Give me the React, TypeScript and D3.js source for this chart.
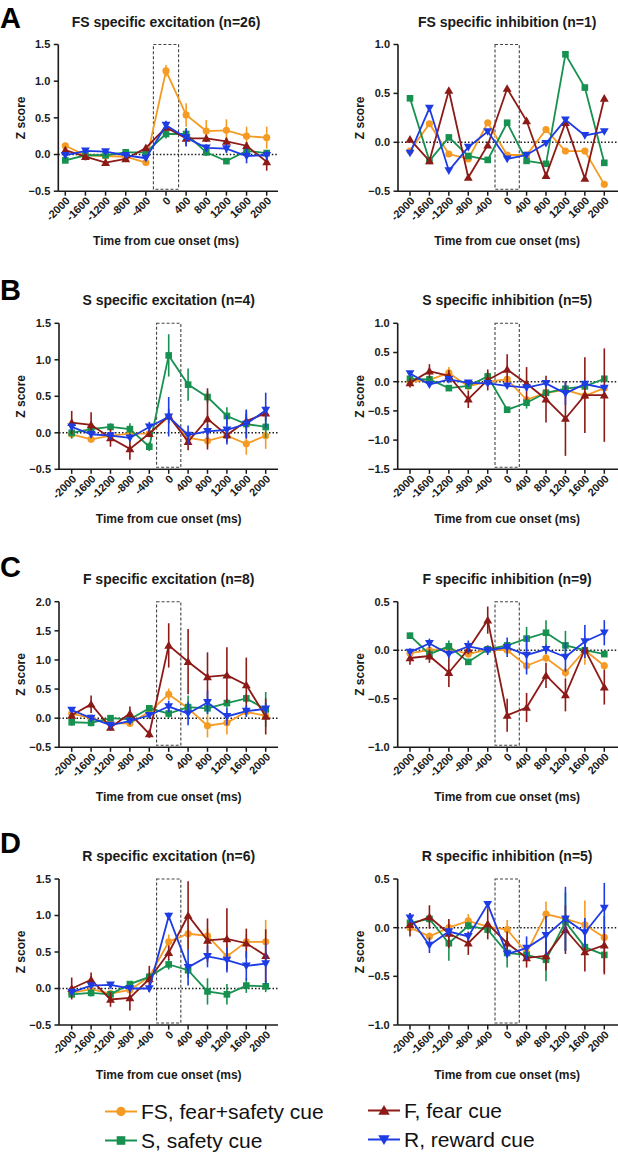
import React from "react";
import * as d3 from "d3";

// ---------- data ----------
const TIMES = [-2000, -1600, -1200, -800, -400, 0, 400, 800, 1200, 1600, 2000];
const SERIES_NAMES = ["FS, fear+safety cue", "S, safety cue", "F, fear cue", "R, reward cue"];
const SERIES_COLORS = ["#F59A23", "#17914F", "#8C1A17", "#1E3CE4"];
const SERIES_SHAPES = ["circle", "square", "triangleUp", "triangleDown"];
const PANEL_TITLES = [
  "FS specific excitation (n=26)",
  "FS specific inhibition (n=1)",
  "S specific excitation (n=4)",
  "S specific inhibition (n=5)",
  "F specific excitation (n=8)",
  "F specific inhibition (n=9)",
  "R specific excitation (n=6)",
  "R specific inhibition (n=5)",
];
const ROW_LETTERS = ["A", "B", "C", "D"];
const Y_TICKS_A_EXC = [-0.5, 0, 0.5, 1.0, 1.5];
const Y_TICKS_A_INH = [-0.5, 0, 0.5, 1.0];
const Y_TICKS_B_EXC = [-0.5, 0, 0.5, 1.0, 1.5];
const Y_TICKS_B_INH = [-1.5, -1.0, -0.5, 0, 0.5, 1.0];
const Y_TICKS_C_EXC = [-0.5, 0, 0.5, 1.0, 1.5, 2.0];
const Y_TICKS_C_INH = [-1.0, -0.5, 0, 0.5];
const Y_TICKS_D_EXC = [-0.5, 0, 0.5, 1.0, 1.5];
const Y_TICKS_D_INH = [-1.0, -0.5, 0, 0.5];
const X_TITLE = "Time from cue onset (ms)";
const Y_TITLE = "Z score";

// FS specific excitation
const FSEXC_FS = [0.12, -0.01, -0.02, -0.03, -0.11, 1.14, 0.54, 0.32, 0.33, 0.25, 0.23];
const FSEXC_FS_ERR = [0.04, 0.04, 0.04, 0.04, 0.04, 0.08, 0.16, 0.15, 0.15, 0.13, 0.15];
const FSEXC_S = [-0.08, -0.01, -0.01, 0.03, 0.03, 0.28, 0.28, 0.03, -0.09, 0.05, 0.02];
const FSEXC_S_ERR = [0.03, 0.03, 0.03, 0.03, 0.03, 0.06, 0.08, 0.05, 0.04, 0.05, 0.04];
const FSEXC_F = [0.06, -0.03, -0.11, -0.06, 0.09, 0.37, 0.22, 0.22, 0.18, 0.12, -0.1];
const FSEXC_F_ERR = [0.04, 0.05, 0.04, 0.04, 0.04, 0.05, 0.1, 0.05, 0.05, 0.05, 0.12];
const FSEXC_R = [-0.01, 0.05, 0.04, -0.01, -0.05, 0.4, 0.23, 0.09, 0.08, -0.02, -0.01];
const FSEXC_R_ERR = [0.03, 0.03, 0.03, 0.03, 0.03, 0.06, 0.12, 0.05, 0.06, 0.1, 0.06];

// FS specific inhibition (n=1, no error bars)
const FSINH_FS = [-0.09, 0.19, -0.12, -0.17, 0.2, -0.13, -0.13, 0.13, -0.09, -0.09, -0.43];
const FSINH_S = [0.45, -0.19, 0.05, -0.14, -0.18, 0.2, -0.19, -0.22, 0.9, 0.56, -0.21];
const FSINH_F = [0.03, -0.19, 0.53, -0.36, -0.03, 0.55, 0.22, -0.34, 0.2, -0.37, 0.45];
const FSINH_R = [-0.11, 0.35, -0.29, -0.05, 0.11, -0.17, -0.13, -0.01, 0.23, 0.07, 0.11];
const NO_ERR = [0, 0, 0, 0, 0, 0, 0, 0, 0, 0, 0];

// S specific excitation
const SEXC_FS = [-0.02, -0.09, -0.04, -0.01, -0.01, 0.22, -0.07, -0.11, -0.04, -0.15, -0.04];
const SEXC_FS_ERR = [0.04, 0.04, 0.04, 0.04, 0.04, 0.05, 0.06, 0.08, 0.06, 0.15, 0.18];
const SEXC_S = [0.0, 0.05, 0.08, 0.05, -0.19, 1.06, 0.66, 0.49, 0.23, 0.12, 0.08];
const SEXC_S_ERR = [0.08, 0.05, 0.05, 0.08, 0.06, 0.29, 0.22, 0.08, 0.12, 0.18, 0.15];
const SEXC_F = [0.14, 0.11, -0.07, -0.22, -0.01, 0.23, -0.12, 0.19, -0.03, 0.16, 0.27];
const SEXC_F_ERR = [0.16, 0.17, 0.12, 0.15, 0.05, 0.1, 0.12, 0.42, 0.1, 0.1, 0.1];
const SEXC_R = [0.08, -0.02, -0.04, -0.07, 0.08, 0.22, -0.03, 0.02, 0.04, 0.12, 0.31];
const SEXC_R_ERR = [0.05, 0.05, 0.05, 0.05, 0.07, 0.27, 0.13, 0.1, 0.2, 0.2, 0.24];

// S specific inhibition
const SINH_FS = [0.0, 0.03, 0.15, -0.08, 0.0, 0.04, -0.31, -0.19, -0.14, -0.24, -0.11];
const SINH_FS_ERR = [0.05, 0.05, 0.1, 0.05, 0.05, 0.05, 0.05, 0.05, 0.05, 0.05, 0.05];
const SINH_S = [0.05, 0.04, -0.11, -0.07, 0.09, -0.48, -0.36, -0.19, -0.12, -0.08, 0.05];
const SINH_S_ERR = [0.04, 0.04, 0.05, 0.05, 0.08, 0.05, 0.1, 0.05, 0.05, 0.05, 0.05];
const SINH_F = [-0.02, 0.18, 0.1, -0.3, 0.03, 0.21, -0.03, -0.3, -0.63, -0.23, -0.23];
const SINH_F_ERR = [0.08, 0.12, 0.1, 0.15, 0.18, 0.26, 0.28, 0.4, 0.64, 0.65, 0.8];
const SINH_R = [0.14, -0.05, 0.04, -0.02, -0.03, -0.07, -0.1, -0.03, -0.2, -0.04, -0.11];
const SINH_R_ERR = [0.04, 0.04, 0.04, 0.04, 0.04, 0.04, 0.05, 0.05, 0.2, 0.06, 0.05];

// F specific excitation
const FEXC_FS = [0.08, 0.0, -0.09, -0.09, 0.11, 0.41, 0.17, -0.13, -0.08, 0.11, 0.04];
const FEXC_FS_ERR = [0.04, 0.04, 0.04, 0.04, 0.05, 0.1, 0.08, 0.2, 0.2, 0.08, 0.06];
const FEXC_S = [-0.07, -0.08, 0.0, -0.02, 0.17, 0.08, 0.19, 0.17, 0.26, 0.34, 0.15];
const FEXC_S_ERR = [0.06, 0.06, 0.04, 0.04, 0.05, 0.08, 0.2, 0.1, 0.08, 0.08, 0.3];
const FEXC_F = [0.05, 0.24, -0.16, 0.08, -0.27, 1.25, 0.97, 0.71, 0.74, 0.57, 0.03];
const FEXC_F_ERR = [0.06, 0.15, 0.05, 0.12, 0.07, 0.38, 0.56, 0.42, 0.48, 0.47, 0.31];
const FEXC_R = [0.14, 0.0, -0.12, -0.05, 0.05, 0.2, 0.08, 0.27, 0.03, 0.12, 0.16];
const FEXC_R_ERR = [0.04, 0.04, 0.04, 0.04, 0.05, 0.1, 0.2, 0.2, 0.15, 0.1, 0.1];

// F specific inhibition
const FINH_FS = [-0.03, 0.0, 0.02, -0.04, 0.01, 0.0, -0.16, -0.08, -0.23, 0.0, -0.16];
const FINH_FS_ERR = [0.03, 0.03, 0.03, 0.03, 0.03, 0.03, 0.04, 0.04, 0.05, 0.15, 0.04];
const FINH_S = [0.15, -0.04, 0.04, -0.12, 0.01, 0.05, 0.12, 0.18, 0.05, 0.0, -0.04];
const FINH_S_ERR = [0.03, 0.04, 0.06, 0.03, 0.03, 0.03, 0.12, 0.13, 0.15, 0.04, 0.03];
const FINH_F = [-0.08, -0.06, -0.23, 0.01, 0.31, -0.67, -0.59, -0.26, -0.46, 0.01, -0.38];
const FINH_F_ERR = [0.07, 0.07, 0.15, 0.05, 0.14, 0.17, 0.15, 0.13, 0.17, 0.05, 0.18];
const FINH_R = [-0.02, 0.07, -0.04, 0.04, 0.0, 0.03, -0.05, 0.01, -0.07, 0.09, 0.18];
const FINH_R_ERR = [0.04, 0.05, 0.04, 0.06, 0.05, 0.1, 0.2, 0.05, 0.15, 0.17, 0.13];

// R specific excitation
const REXC_FS = [-0.06, -0.01, -0.07, -0.02, 0.16, 0.64, 0.75, 0.72, 0.44, 0.64, 0.64];
const REXC_FS_ERR = [0.04, 0.04, 0.04, 0.04, 0.06, 0.1, 0.2, 0.1, 0.2, 0.1, 0.3];
const REXC_S = [-0.08, -0.06, -0.08, 0.06, 0.16, 0.33, 0.25, -0.04, -0.08, 0.04, 0.03];
const REXC_S_ERR = [0.04, 0.05, 0.05, 0.03, 0.05, 0.07, 0.1, 0.18, 0.14, 0.1, 0.08];
const REXC_F = [0.0, 0.12, -0.15, -0.13, 0.13, 0.49, 1.0, 0.66, 0.68, 0.62, 0.45];
const REXC_F_ERR = [0.15, 0.1, 0.1, 0.17, 0.18, 0.1, 0.47, 0.3, 0.42, 0.2, 0.36];
const REXC_R = [-0.05, 0.04, 0.05, 0.0, 0.0, 0.99, 0.29, 0.44, 0.39, 0.31, 0.34];
const REXC_R_ERR = [0.04, 0.04, 0.04, 0.04, 0.05, 0.05, 0.25, 0.15, 0.17, 0.2, 0.28];

// R specific inhibition
const RINH_FS = [0.0, -0.09, 0.0, 0.07, 0.01, -0.02, -0.26, 0.14, 0.09, 0.03, -0.1];
const RINH_FS_ERR = [0.04, 0.04, 0.04, 0.07, 0.04, 0.1, 0.05, 0.13, 0.05, 0.25, 0.05];
const RINH_S = [0.05, 0.09, -0.16, 0.02, -0.02, -0.26, -0.28, -0.33, 0.06, -0.2, -0.28];
const RINH_S_ERR = [0.04, 0.04, 0.18, 0.04, 0.04, 0.15, 0.06, 0.22, 0.3, 0.06, 0.18];
const RINH_F = [0.03, 0.11, -0.06, -0.16, 0.04, -0.16, -0.31, -0.29, -0.02, -0.25, -0.18];
const RINH_F_ERR = [0.12, 0.12, 0.15, 0.12, 0.16, 0.12, 0.1, 0.15, 0.25, 0.2, 0.3];
const RINH_R = [0.1, -0.18, -0.04, -0.09, 0.24, -0.27, -0.21, -0.08, 0.09, -0.05, 0.2];
const RINH_R_ERR = [0.05, 0.08, 0.04, 0.04, 0.03, 0.04, 0.12, 0.2, 0.33, 0.15, 0.26];

// ---------- layout ----------
const W = 618;
const H = 1155;
const FONT = "'Liberation Sans', Arial, Helvetica, sans-serif";
const INK = "#1a1a1a";

type Panel = {
  title: string;
  yTicks: number[];
  axisX: number;
  xStart: number;
  xEnd: number;
  axisEnd: number;
  top: number;
  bottom: number;
  ytitleX: number;
  vals: number[][];
  errs: number[][];
};

const ROW_TOPS = [44.5, 323.3, 601.7, 879];
const ROW_BOTTOMS = [191.2, 469.3, 747.3, 1025];

const panels: Panel[] = [
  {
    title: PANEL_TITLES[0], yTicks: Y_TICKS_A_EXC, axisX: 58.3, xStart: 65.3, xEnd: 266.7, axisEnd: 278,
    top: ROW_TOPS[0], bottom: ROW_BOTTOMS[0], ytitleX: 21,
    vals: [FSEXC_FS, FSEXC_S, FSEXC_F, FSEXC_R], errs: [FSEXC_FS_ERR, FSEXC_S_ERR, FSEXC_F_ERR, FSEXC_R_ERR],
  },
  {
    title: PANEL_TITLES[1], yTicks: Y_TICKS_A_INH, axisX: 398, xStart: 410, xEnd: 604.3, axisEnd: 618,
    top: ROW_TOPS[0], bottom: ROW_BOTTOMS[0], ytitleX: 360,
    vals: [FSINH_FS, FSINH_S, FSINH_F, FSINH_R], errs: [NO_ERR, NO_ERR, NO_ERR, NO_ERR],
  },
  {
    title: PANEL_TITLES[2], yTicks: Y_TICKS_B_EXC, axisX: 59, xStart: 71.7, xEnd: 265.7, axisEnd: 278,
    top: ROW_TOPS[1], bottom: ROW_BOTTOMS[1], ytitleX: 21,
    vals: [SEXC_FS, SEXC_S, SEXC_F, SEXC_R], errs: [SEXC_FS_ERR, SEXC_S_ERR, SEXC_F_ERR, SEXC_R_ERR],
  },
  {
    title: PANEL_TITLES[3], yTicks: Y_TICKS_B_INH, axisX: 397.7, xStart: 410, xEnd: 604.3, axisEnd: 618,
    top: ROW_TOPS[1], bottom: ROW_BOTTOMS[1], ytitleX: 360,
    vals: [SINH_FS, SINH_S, SINH_F, SINH_R], errs: [SINH_FS_ERR, SINH_S_ERR, SINH_F_ERR, SINH_R_ERR],
  },
  {
    title: PANEL_TITLES[4], yTicks: Y_TICKS_C_EXC, axisX: 59, xStart: 71.7, xEnd: 265.7, axisEnd: 278,
    top: ROW_TOPS[2], bottom: ROW_BOTTOMS[2], ytitleX: 21,
    vals: [FEXC_FS, FEXC_S, FEXC_F, FEXC_R], errs: [FEXC_FS_ERR, FEXC_S_ERR, FEXC_F_ERR, FEXC_R_ERR],
  },
  {
    title: PANEL_TITLES[5], yTicks: Y_TICKS_C_INH, axisX: 397.7, xStart: 410, xEnd: 604.3, axisEnd: 618,
    top: ROW_TOPS[2], bottom: ROW_BOTTOMS[2], ytitleX: 360,
    vals: [FINH_FS, FINH_S, FINH_F, FINH_R], errs: [FINH_FS_ERR, FINH_S_ERR, FINH_F_ERR, FINH_R_ERR],
  },
  {
    title: PANEL_TITLES[6], yTicks: Y_TICKS_D_EXC, axisX: 59, xStart: 71.7, xEnd: 265.7, axisEnd: 278,
    top: ROW_TOPS[3], bottom: ROW_BOTTOMS[3], ytitleX: 21,
    vals: [REXC_FS, REXC_S, REXC_F, REXC_R], errs: [REXC_FS_ERR, REXC_S_ERR, REXC_F_ERR, REXC_R_ERR],
  },
  {
    title: PANEL_TITLES[7], yTicks: Y_TICKS_D_INH, axisX: 397.7, xStart: 410, xEnd: 604.3, axisEnd: 618,
    top: ROW_TOPS[3], bottom: ROW_BOTTOMS[3], ytitleX: 360,
    vals: [RINH_FS, RINH_S, RINH_F, RINH_R], errs: [RINH_FS_ERR, RINH_S_ERR, RINH_F_ERR, RINH_R_ERR],
  },
];

const LETTER_POS = [
  { x: 0, y: 28 },
  { x: 0, y: 300 },
  { x: 0, y: 577 },
  { x: 0, y: 853 },
];

function symbolPath(shape: string, size: number): string {
  const type =
    shape === "circle" ? d3.symbolCircle : shape === "square" ? d3.symbolSquare : d3.symbolTriangle;
  return d3.symbol().type(type).size(size)() || "";
}

const SYMBOL_SIZES: Record<string, number> = {
  circle: 40,
  square: 44,
  triangleUp: 34,
  triangleDown: 34,
};

function Marker({ shape, x, y, color, scale = 1 }: { shape: string; x: number; y: number; color: string; scale?: number }) {
  const d = symbolPath(shape, SYMBOL_SIZES[shape] * scale * scale);
  const rot = shape === "triangleDown" ? " rotate(180)" : "";
  const dy = shape === "triangleUp" ? 0.8 * scale : shape === "triangleDown" ? -0.8 * scale : 0;
  return <path d={d} transform={`translate(${x},${y + dy})${rot}`} fill={color} stroke="none" />;
}

function PanelView({ p }: { p: Panel }) {
  const yMin = p.yTicks[0];
  const yMax = p.yTicks[p.yTicks.length - 1];
  const x = d3.scaleLinear().domain([TIMES[0], TIMES[TIMES.length - 1]]).range([p.xStart, p.xEnd]);
  const y = d3.scaleLinear().domain([yMin, yMax]).range([p.bottom, p.top]);
  const fmt = d3.format(".1f");
  const line = d3
    .line<number>()
    .x((_, i) => x(TIMES[i]))
    .y((v) => y(v));
  const midX = (p.xStart + p.xEnd) / 2;
  const midY = (p.top + p.bottom) / 2;
  return (
    <g>
      <text x={midX} y={p.top - 18} textAnchor="middle" fontFamily={FONT} fontWeight="bold" fontSize={14} fill={INK}>
        {p.title}
      </text>
      {/* cue window */}
      <rect
        x={x(-250)}
        y={p.top}
        width={x(250) - x(-250)}
        height={p.bottom - p.top - 2}
        fill="none"
        stroke="#444"
        strokeWidth={1.1}
        strokeDasharray="3,2"
      />
      {/* zero line */}
      <line x1={p.axisX} x2={p.axisEnd} y1={y(0)} y2={y(0)} stroke={INK} strokeWidth={1.5} strokeDasharray="1.5,2" />
      {/* y axis */}
      <line x1={p.axisX} x2={p.axisX} y1={p.top} y2={p.bottom} stroke={INK} strokeWidth={1.6} />
      {p.yTicks.map((t) => (
        <g key={"yt" + t}>
          <line x1={p.axisX - 4.5} x2={p.axisX} y1={y(t)} y2={y(t)} stroke={INK} strokeWidth={1.5} />
          <text x={p.axisX - 8} y={y(t)} dy="0.36em" textAnchor="end" fontFamily={FONT} fontWeight="bold" fontSize={11} fill={INK}>
            {fmt(t)}
          </text>
        </g>
      ))}
      {/* x axis */}
      <line x1={p.axisX} x2={p.axisEnd} y1={p.bottom} y2={p.bottom} stroke={INK} strokeWidth={1.6} />
      {TIMES.map((t) => (
        <g key={"xt" + t}>
          <line x1={x(t)} x2={x(t)} y1={p.bottom} y2={p.bottom + 4.5} stroke={INK} strokeWidth={1.5} />
          <text
            transform={`translate(${x(t) + 2.5},${p.bottom + 7.5}) rotate(-45)`}
            dy="0.36em"
            textAnchor="end"
            fontFamily={FONT}
            fontWeight="bold"
            fontSize={11}
            fill={INK}
          >
            {String(t)}
          </text>
        </g>
      ))}
      <text x={midX} y={p.bottom + 54} textAnchor="middle" fontFamily={FONT} fontWeight="bold" fontSize={12} fill={INK}>
        {X_TITLE}
      </text>
      <text
        transform={`translate(${p.ytitleX},${midY}) rotate(-90)`}
        dy="0.36em"
        textAnchor="middle"
        fontFamily={FONT}
        fontWeight="bold"
        fontSize={12}
        fill={INK}
      >
        {Y_TITLE}
      </text>
      {/* series */}
      {p.vals.map((vals, si) => {
        const color = SERIES_COLORS[si];
        const errs = p.errs[si];
        return (
          <g key={"s" + si}>
            {vals.map((v, i) =>
              errs[i] > 0 ? (
                <line
                  key={"e" + i}
                  x1={x(TIMES[i])}
                  x2={x(TIMES[i])}
                  y1={y(v - errs[i])}
                  y2={y(v + errs[i])}
                  stroke={color}
                  strokeWidth={1.6}
                />
              ) : null
            )}
            <path d={line(vals) || ""} fill="none" stroke={color} strokeWidth={1.8} strokeLinejoin="miter" />
            {vals.map((v, i) => (
              <Marker key={"m" + i} shape={SERIES_SHAPES[si]} x={x(TIMES[i])} y={y(v)} color={color} />
            ))}
          </g>
        );
      })}
    </g>
  );
}

const LEGEND_POS = [
  { x: 105, y: 1111.5 },
  { x: 105, y: 1140.5 },
  { x: 368, y: 1110.5 },
  { x: 368, y: 1139.5 },
];

export default function App() {
  return (
    <svg
      width={W}
      height={H}
      viewBox={`0 0 ${W} ${H}`}
      style={{ position: "absolute", left: 0, top: 0, background: "#fff" }}
    >
      <rect x={0} y={0} width={W} height={H} fill="#fff" />
      {ROW_LETTERS.map((L, i) => (
        <text key={L} x={LETTER_POS[i].x} y={LETTER_POS[i].y} fontFamily={FONT} fontWeight="bold" fontSize={29} fill="#000">
          {L}
        </text>
      ))}
      {panels.map((p, i) => (
        <PanelView key={i} p={p} />
      ))}
      {SERIES_NAMES.map((name, i) => {
        const pos = LEGEND_POS[i];
        return (
          <g key={name}>
            <line x1={pos.x} x2={pos.x + 32} y1={pos.y} y2={pos.y} stroke={SERIES_COLORS[i]} strokeWidth={2} />
            <Marker shape={SERIES_SHAPES[i]} x={pos.x + 16} y={pos.y} color={SERIES_COLORS[i]} scale={1.3} />
            <text x={pos.x + 36} y={pos.y} dy="0.36em" fontFamily={FONT} fontSize={21} fill="#111">
              {name}
            </text>
          </g>
        );
      })}
    </svg>
  );
}
